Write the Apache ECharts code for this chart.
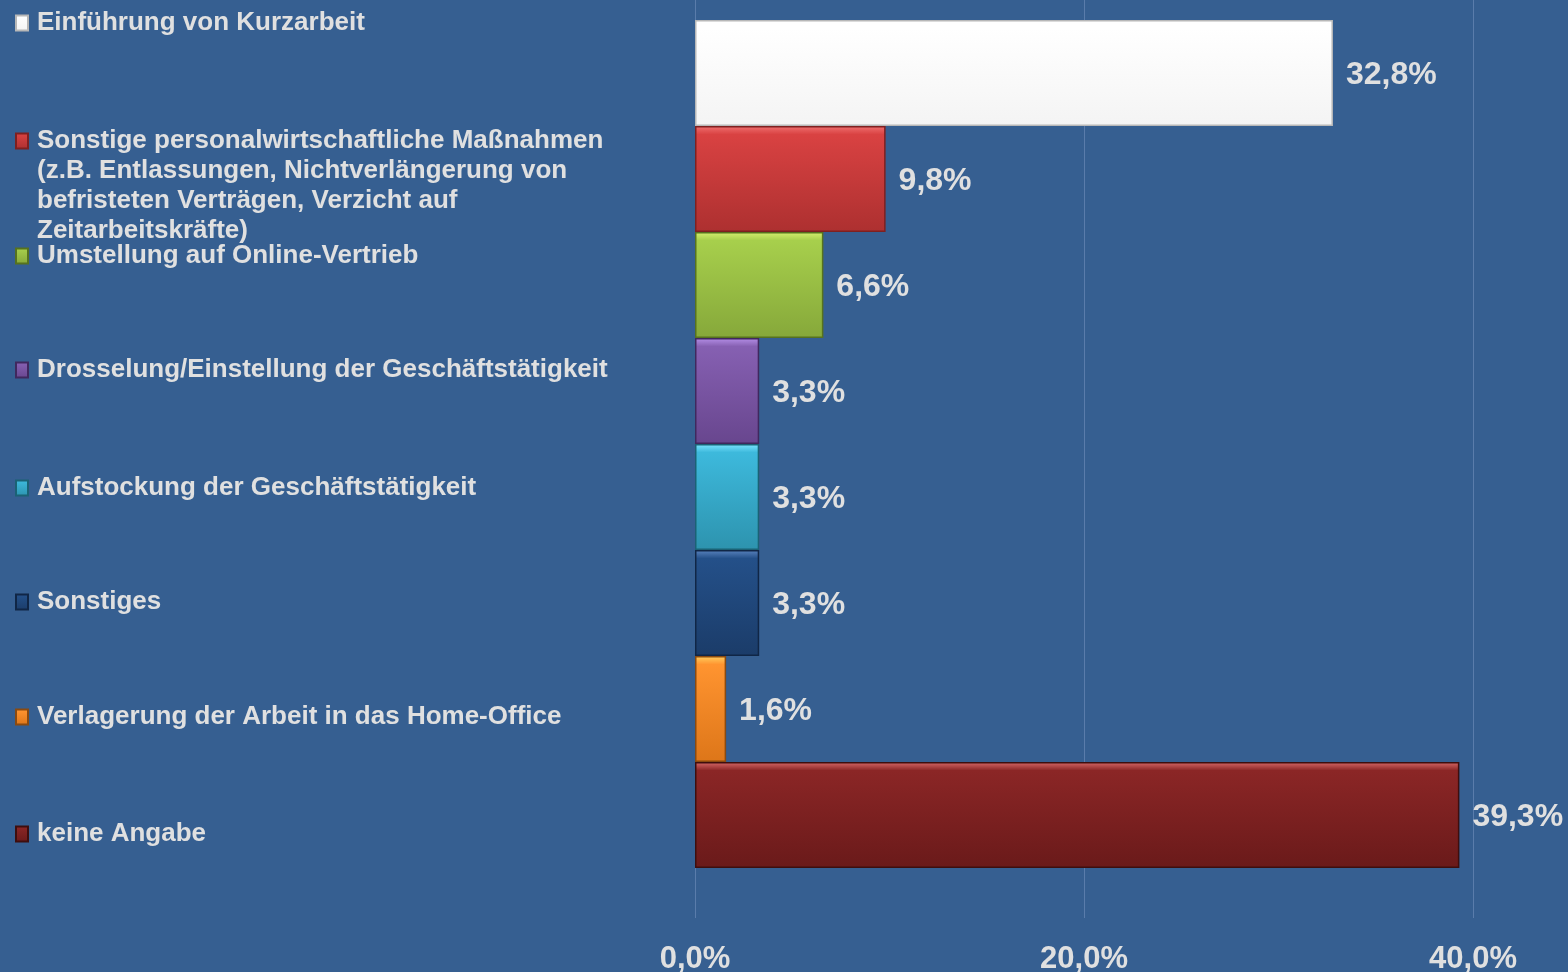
<!DOCTYPE html>
<html>
<head>
<meta charset="utf-8">
<script src="https://cdn.jsdelivr.net/npm/echarts@6/dist/echarts.min.js"></script>
<style>
  html, body { margin: 0; padding: 0; background: #365F91; }
  #chart { width: 1568px; height: 972px; }
</style>
</head>
<body>
<div id="chart"></div>
<script>
const categories = [
  'Einführung von Kurzarbeit',
  'Sonstige personalwirtschaftliche Maßnahmen\n(z.B. Entlassungen, Nichtverlängerung von\nbefristeten Verträgen, Verzicht auf\nZeitarbeitskräfte)',
  'Umstellung auf Online-Vertrieb',
  'Drosselung/Einstellung der Geschäftstätigkeit',
  'Aufstockung der Geschäftstätigkeit',
  'Sonstiges',
  'Verlagerung der Arbeit in das Home-Office',
  'keine Angabe'
];
const values = [32.8, 9.8, 6.6, 3.3, 3.3, 3.3, 1.6, 39.3];
const xTicks = [0, 20, 40];

// [top highlight, base, bottom, border]
const colors = [
  ['#ffffff', '#ffffff', '#f4f4f4', '#b8b8b8'],
  ['#f07070', '#d94242', '#ad3030', '#7e2020'],
  ['#d6f070', '#a7cf4c', '#86a83a', '#56721f'],
  ['#b690e8', '#8660b2', '#68468e', '#40285e'],
  ['#7ee6ff', '#3db9dc', '#2d93ae', '#1b6275'],
  ['#5a84c0', '#245089', '#1b3c69', '#102646'],
  ['#ffd060', '#ff9430', '#dd7619', '#8a4a10'],
  ['#d86a6a', '#8b2626', '#6a1a1a', '#3e0e0e']
];

const fmt = v => v.toFixed(1).replace('.', ',') + '%';
const textColor = '#e0e0e0';
const font = "'Liberation Sans', Arial, sans-serif";

const legendCenters = [23, 141, 256, 370, 488, 602, 717, 834];

const series = categories.map((name, i) => ({
  name: name,
  type: 'bar',
  xAxisIndex: 0,
  yAxisIndex: 0,
  barGap: '-100%',
  barCategoryGap: '0%',
  data: values.map((v, j) => (j === i ? v : '-')),
  itemStyle: {
    color: new echarts.graphic.LinearGradient(0, 0, 0, 1, [
      { offset: 0, color: colors[i][0] },
      { offset: 0.08, color: colors[i][1] },
      { offset: 1, color: colors[i][2] }
    ]),
    borderColor: colors[i][3],
    borderWidth: 1.5
  },
  label: {
    show: true,
    position: 'right',
    distance: 13,
    offset: [0, 2],
    formatter: p => fmt(p.value),
    color: textColor,
    fontFamily: font,
    fontWeight: 'bold',
    fontSize: 32
  },
  animation: false
}));

// multi-line names: pad with leading blank lines so the first line sits next to the icon
const legends = categories.map((name, i) => {
  const lines = name.split('\n').length;
  const extra = (lines - 1) * 30;
  return {
    data: [name],
    left: 15,
    top: legendCenters[i] - 15 - extra,
    padding: 0,
    orient: 'vertical',
    icon: 'rect',
    itemWidth: 12,
    itemHeight: 15,
    selectedMode: false,
    formatter: n => '\n'.repeat(lines - 1) + n,
    textStyle: {
      color: textColor,
      fontFamily: font,
      fontWeight: 'bold',
      fontSize: 26,
      lineHeight: 30,
      padding: [0, 0, 0, 4]
    }
  };
});

const chart = echarts.init(document.getElementById('chart'));
chart.setOption({
  backgroundColor: '#365F91',
  animation: false,
  legend: legends,
  grid: [
    { left: 695, right: 95, top: 20, bottom: 104, outerBoundsMode: 'none' },
    { left: 695, right: 95, top: 0, bottom: 54, outerBoundsMode: 'none' }
  ],
  xAxis: [
    {
      gridIndex: 0, type: 'value', min: 0, max: 40, show: false
    },
    {
      gridIndex: 1, type: 'value', min: xTicks[0], max: xTicks[xTicks.length - 1], interval: 20,
      axisLine: { show: false },
      axisTick: { show: false },
      splitLine: { show: true, lineStyle: { color: '#5a7cab', width: 1 } },
      axisLabel: {
        margin: 26,
        formatter: v => fmt(v),
        color: textColor,
        fontFamily: font,
        fontWeight: 'bold',
        fontSize: 31
      }
    }
  ],
  yAxis: [
    {
      gridIndex: 0, type: 'category', inverse: true, data: categories, show: false
    },
    {
      gridIndex: 1, type: 'category', data: [''], show: false
    }
  ],
  series: series
});
</script>
</body>
</html>
